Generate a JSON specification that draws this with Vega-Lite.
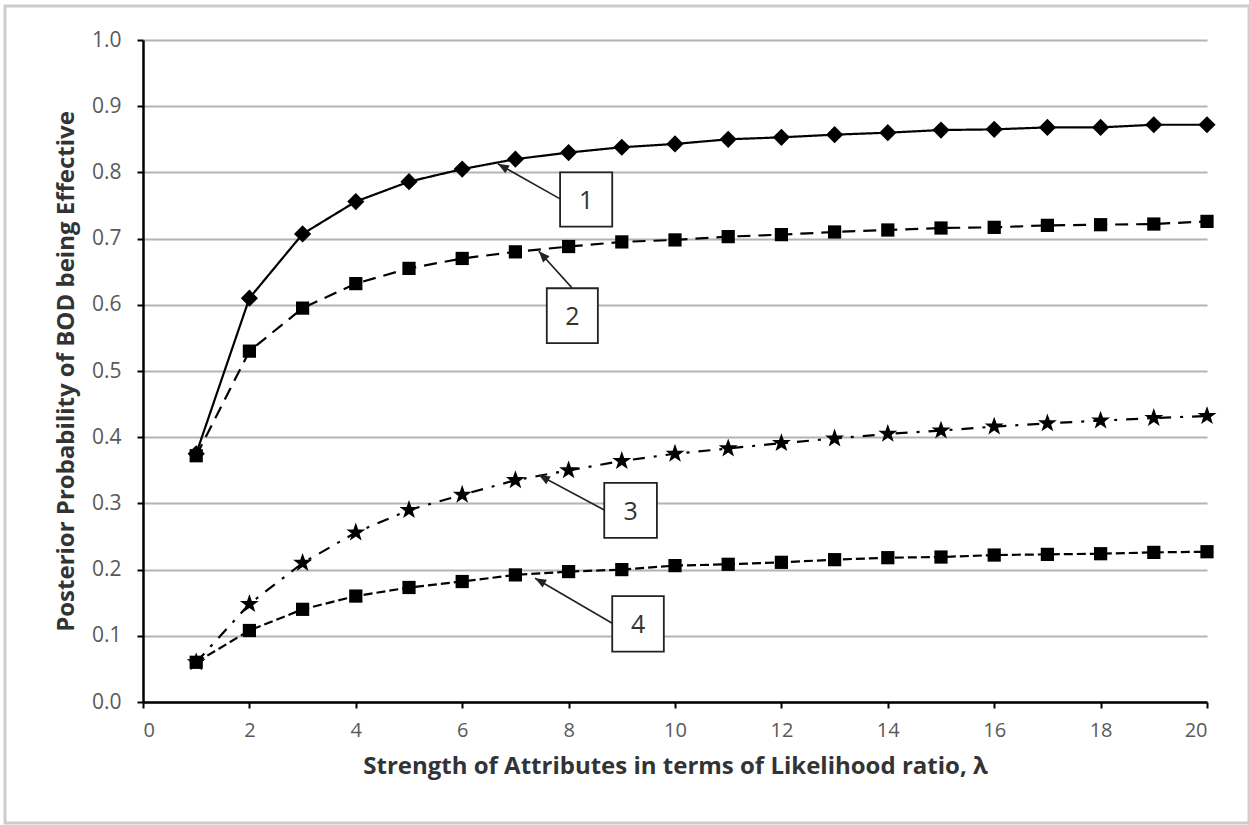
{
  "$schema": "https://vega.github.io/schema/vega-lite/v6.json",
  "autosize": "none",
  "width": 1064,
  "height": 662,
  "padding": {"left": 143, "top": 40, "right": 42, "bottom": 123},
  "background": "white",
  "config": {
    "view": {"stroke": null},
    "axis": {"labelFont": "Open Sans", "titleFont": "Open Sans", "labelColor": "#595959", "titleColor": "#333333"}
  },
  "datasets": {
    "curves": [
      {"lambda": 1, "p": 0.375, "series": "1"}, {"lambda": 2, "p": 0.61, "series": "1"}, {"lambda": 3, "p": 0.707, "series": "1"}, {"lambda": 4, "p": 0.756, "series": "1"}, {"lambda": 5, "p": 0.786, "series": "1"}, {"lambda": 6, "p": 0.805, "series": "1"}, {"lambda": 7, "p": 0.82, "series": "1"}, {"lambda": 8, "p": 0.83, "series": "1"}, {"lambda": 9, "p": 0.838, "series": "1"}, {"lambda": 10, "p": 0.843, "series": "1"}, {"lambda": 11, "p": 0.85, "series": "1"}, {"lambda": 12, "p": 0.853, "series": "1"}, {"lambda": 13, "p": 0.857, "series": "1"}, {"lambda": 14, "p": 0.86, "series": "1"}, {"lambda": 15, "p": 0.864, "series": "1"}, {"lambda": 16, "p": 0.865, "series": "1"}, {"lambda": 17, "p": 0.868, "series": "1"}, {"lambda": 18, "p": 0.868, "series": "1"}, {"lambda": 19, "p": 0.872, "series": "1"}, {"lambda": 20, "p": 0.872, "series": "1"},
      {"lambda": 1, "p": 0.372, "series": "2"}, {"lambda": 2, "p": 0.53, "series": "2"}, {"lambda": 3, "p": 0.595, "series": "2"}, {"lambda": 4, "p": 0.632, "series": "2"}, {"lambda": 5, "p": 0.655, "series": "2"}, {"lambda": 6, "p": 0.67, "series": "2"}, {"lambda": 7, "p": 0.68, "series": "2"}, {"lambda": 8, "p": 0.688, "series": "2"}, {"lambda": 9, "p": 0.695, "series": "2"}, {"lambda": 10, "p": 0.698, "series": "2"}, {"lambda": 11, "p": 0.703, "series": "2"}, {"lambda": 12, "p": 0.706, "series": "2"}, {"lambda": 13, "p": 0.71, "series": "2"}, {"lambda": 14, "p": 0.713, "series": "2"}, {"lambda": 15, "p": 0.716, "series": "2"}, {"lambda": 16, "p": 0.717, "series": "2"}, {"lambda": 17, "p": 0.72, "series": "2"}, {"lambda": 18, "p": 0.721, "series": "2"}, {"lambda": 19, "p": 0.722, "series": "2"}, {"lambda": 20, "p": 0.726, "series": "2"},
      {"lambda": 1, "p": 0.06, "series": "3"}, {"lambda": 2, "p": 0.148, "series": "3"}, {"lambda": 3, "p": 0.21, "series": "3"}, {"lambda": 4, "p": 0.256, "series": "3"}, {"lambda": 5, "p": 0.29, "series": "3"}, {"lambda": 6, "p": 0.313, "series": "3"}, {"lambda": 7, "p": 0.335, "series": "3"}, {"lambda": 8, "p": 0.35, "series": "3"}, {"lambda": 9, "p": 0.364, "series": "3"}, {"lambda": 10, "p": 0.375, "series": "3"}, {"lambda": 11, "p": 0.383, "series": "3"}, {"lambda": 12, "p": 0.391, "series": "3"}, {"lambda": 13, "p": 0.398, "series": "3"}, {"lambda": 14, "p": 0.405, "series": "3"}, {"lambda": 15, "p": 0.41, "series": "3"}, {"lambda": 16, "p": 0.416, "series": "3"}, {"lambda": 17, "p": 0.421, "series": "3"}, {"lambda": 18, "p": 0.425, "series": "3"}, {"lambda": 19, "p": 0.429, "series": "3"}, {"lambda": 20, "p": 0.432, "series": "3"},
      {"lambda": 1, "p": 0.06, "series": "4"}, {"lambda": 2, "p": 0.108, "series": "4"}, {"lambda": 3, "p": 0.14, "series": "4"}, {"lambda": 4, "p": 0.16, "series": "4"}, {"lambda": 5, "p": 0.173, "series": "4"}, {"lambda": 6, "p": 0.182, "series": "4"}, {"lambda": 7, "p": 0.192, "series": "4"}, {"lambda": 8, "p": 0.197, "series": "4"}, {"lambda": 9, "p": 0.2, "series": "4"}, {"lambda": 10, "p": 0.206, "series": "4"}, {"lambda": 11, "p": 0.208, "series": "4"}, {"lambda": 12, "p": 0.211, "series": "4"}, {"lambda": 13, "p": 0.215, "series": "4"}, {"lambda": 14, "p": 0.218, "series": "4"}, {"lambda": 15, "p": 0.219, "series": "4"}, {"lambda": 16, "p": 0.222, "series": "4"}, {"lambda": 17, "p": 0.223, "series": "4"}, {"lambda": 18, "p": 0.224, "series": "4"}, {"lambda": 19, "p": 0.226, "series": "4"}, {"lambda": 20, "p": 0.227, "series": "4"}
    ],
    "callouts": [
      {"label": "1", "bx": 7.84, "bx2": 8.82, "by": 0.8, "by2": 0.718, "tx": 8.33, "ty": 0.757, "ax": 7.84, "ay": 0.76, "hx": 6.67, "hy": 0.813},
      {"label": "2", "bx": 7.59, "bx2": 8.55, "by": 0.625, "by2": 0.542, "tx": 8.07, "ty": 0.581, "ax": 8.06, "ay": 0.626, "hx": 7.44, "hy": 0.681},
      {"label": "3", "bx": 8.67, "bx2": 9.66, "by": 0.331, "by2": 0.248, "tx": 9.165, "ty": 0.287, "ax": 8.67, "ay": 0.29, "hx": 7.44, "hy": 0.343},
      {"label": "4", "bx": 8.82, "bx2": 9.79, "by": 0.16, "by2": 0.076, "tx": 9.305, "ty": 0.116, "ax": 8.82, "ay": 0.119, "hx": 7.37, "hy": 0.187}
    ],
    "frame": [{"x": -2.594, "x2": 20.79, "y": 1.0514, "y2": -0.1828}]
  },
  "layer": [
    {
      "data": {"name": "frame"},
      "mark": {"type": "rect", "fill": null, "stroke": "#cccccc", "strokeWidth": 3},
      "encoding": {
        "x": {"field": "x", "type": "quantitative", "scale": {"domain": [0, 20], "nice": false, "zero": false}, "axis": {"title": "Strength of Attributes in terms of Likelihood ratio, λ", "values": [0, 2, 4, 6, 8, 10, 12, 14, 16, 18, 20], "grid": false, "domainColor": "black", "domainWidth": 2.5, "tickColor": "black", "tickWidth": 2, "tickSize": 6, "labelFontSize": 20, "labelPadding": 12, "titleFontSize": 24, "titleFontWeight": "bold", "titlePadding": 14}},
        "x2": {"field": "x2"},
        "y": {"field": "y", "type": "quantitative", "scale": {"domain": [0, 1], "nice": false, "zero": false}, "axis": {"title": "Posterior Probability of BOD being Effective", "values": [0, 0.1, 0.2, 0.3, 0.4, 0.5, 0.6, 0.7, 0.8, 0.9, 1.0], "format": ".1f", "grid": true, "gridColor": "#b4b4b4", "gridWidth": 2, "domainColor": "black", "domainWidth": 2.5, "tickColor": "black", "tickWidth": 2, "tickSize": 6, "labelFontSize": 21, "labelPadding": 16, "titleFontSize": 24, "titleFontWeight": "bold", "titlePadding": 13}},
        "y2": {"field": "y2"}
      }
    },
    {
      "data": {"name": "curves"},
      "mark": {"type": "line", "color": "black", "strokeWidth": 2.2},
      "encoding": {
        "x": {"field": "lambda", "type": "quantitative"},
        "y": {"field": "p", "type": "quantitative"},
        "detail": {"field": "series"},
        "strokeDash": {"field": "series", "type": "nominal", "scale": {"domain": ["1", "2", "3", "4"], "range": [[1, 0], [13, 8], [12, 9, 3, 9], [9, 4]]}, "legend": null}
      }
    },
    {
      "data": {"name": "curves"},
      "mark": {"type": "point", "filled": true, "color": "black", "opacity": 1, "size": 175},
      "encoding": {
        "x": {"field": "lambda", "type": "quantitative"},
        "y": {"field": "p", "type": "quantitative"},
        "shape": {"field": "series", "type": "nominal", "scale": {"domain": ["1", "2", "3", "4"], "range": ["M-1.3,0L0,-1.3L1.3,0L0,1.3Z", "square", "M0,-1.5L0.36,-0.47L1.43,-0.47L0.57,0.18L0.89,1.2L0,0.6L-0.89,1.2L-0.57,0.18L-1.43,-0.47L-0.36,-0.47Z", "square"]}, "legend": null}
      }
    },
    {
      "data": {"name": "callouts"},
      "mark": {"type": "rule", "color": "#222222", "strokeWidth": 1.6},
      "encoding": {
        "x": {"field": "ax", "type": "quantitative"},
        "y": {"field": "ay", "type": "quantitative"},
        "x2": {"field": "hx"},
        "y2": {"field": "hy"}
      }
    },
    {
      "data": {"name": "callouts"},
      "transform": [{"filter": "datum.label != '2'"}],
      "mark": {"type": "point", "filled": true, "color": "#222222", "opacity": 1, "size": 220, "angle": -60.5, "shape": "M0,0L0.6,1.5L-0.6,1.5Z"},
      "encoding": {
        "x": {"field": "hx", "type": "quantitative"},
        "y": {"field": "hy", "type": "quantitative"}
      }
    },
    {
      "data": {"name": "callouts"},
      "transform": [{"filter": "datum.label == '2'"}],
      "mark": {"type": "point", "filled": true, "color": "#222222", "opacity": 1, "size": 220, "angle": -42.5, "shape": "M0,0L0.6,1.5L-0.6,1.5Z"},
      "encoding": {
        "x": {"field": "hx", "type": "quantitative"},
        "y": {"field": "hy", "type": "quantitative"}
      }
    },
    {
      "data": {"name": "callouts"},
      "mark": {"type": "rect", "fill": "white", "stroke": "#222222", "strokeWidth": 1.8},
      "encoding": {
        "x": {"field": "bx", "type": "quantitative"},
        "x2": {"field": "bx2"},
        "y": {"field": "by", "type": "quantitative"},
        "y2": {"field": "by2"}
      }
    },
    {
      "data": {"name": "callouts"},
      "mark": {"type": "text", "font": "Open Sans", "fontSize": 25, "color": "#333333", "baseline": "middle", "align": "center"},
      "encoding": {
        "x": {"field": "tx", "type": "quantitative"},
        "y": {"field": "ty", "type": "quantitative"},
        "text": {"field": "label"}
      }
    }
  ]
}
